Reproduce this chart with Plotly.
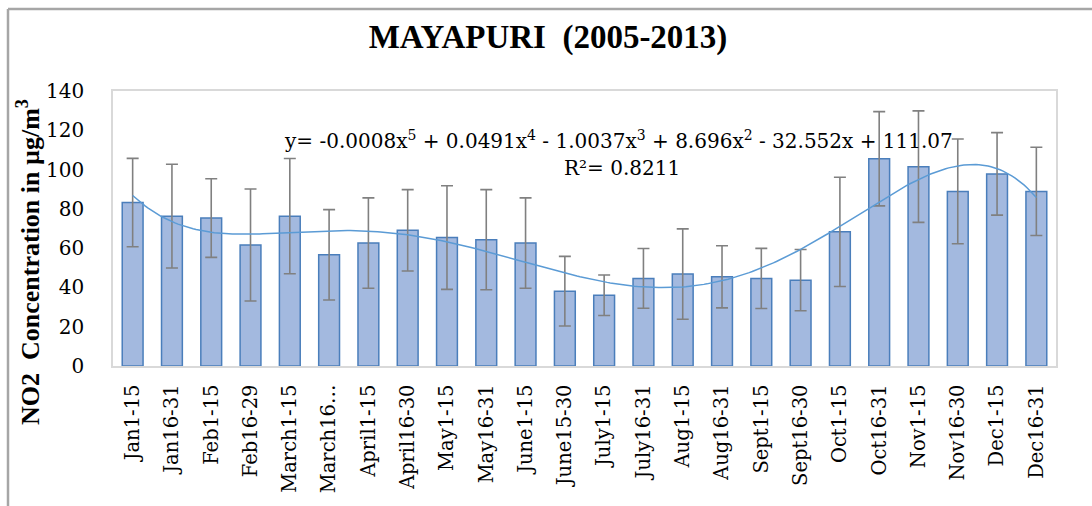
import numpy as np
import plotly.graph_objects as go

categories = ["Jan1-15", "Jan16-31", "Feb1-15", "Feb16-29", "March1-15", "March16…",
              "April1-15", "April16-30", "May1-15", "May16-31", "June1-15", "June15-30",
              "July1-15", "July16-31", "Aug1-15", "Aug16-31", "Sept1-15", "Sept16-30",
              "Oct1-15", "Oct16-31", "Nov1-15", "Nov16-30", "Dec1-15", "Dec16-31"]
means = [83.2, 76.3, 75.3, 61.6, 76.3, 56.6, 62.6, 69.1, 65.4, 64.3, 62.6, 38.1,
         36.0, 44.6, 46.8, 45.4, 44.6, 43.7, 68.3, 105.5, 101.5, 88.9, 97.8, 88.9]
errors = [22.5, 26.4, 20.0, 28.5, 29.3, 23.0, 23.0, 20.7, 26.4, 25.5, 23.0, 17.7,
          10.3, 15.2, 23.0, 15.8, 15.3, 15.6, 27.8, 24.0, 28.4, 26.7, 21.0, 22.5]
equation_text = "y= -0.0008x<sup>5</sup> + 0.0491x<sup>4</sup> - 1.0037x<sup>3</sup> + 8.696x<sup>2</sup> - 32.552x + 111.07"
r2_text = "R²= 0.8211"

x = np.arange(1, len(categories) + 1)
coef = np.polyfit(x, means, 5)
xs = np.linspace(1, len(categories), 300)
ys = np.polyval(coef, xs)

fig = go.Figure()
fig.add_trace(go.Bar(
    x=x, y=means, width=0.53,
    marker=dict(color="#A3B9DF", line=dict(color="#4A7EBB", width=1.5)),
    error_y=dict(type="data", array=errors, visible=True, color="#808080",
                 thickness=1.6, width=6),
    showlegend=False,
))
fig.add_trace(go.Scatter(
    x=xs, y=ys, mode="lines", line=dict(color="#5B9BD5", width=1.5),
    showlegend=False, hoverinfo="skip",
))

L, R, T, B = 113, 36, 91, 140
W, H = 1092, 506
pw, ph = W - L - R, H - T - B

def px(v):
    return (v - L) / pw

def py(v):
    return (H - B - v) / ph

fig.update_layout(
    width=W, height=H,
    margin=dict(l=L, r=R, t=T, b=B),
    paper_bgcolor="white", plot_bgcolor="white",
    title=dict(text="<b>MAYAPURI  (2005-2013)</b>", x=548 / W, xanchor="center",
               y=1 - 36 / H, yanchor="middle",
               font=dict(family="Liberation Serif", size=33, color="#000000")),
    xaxis=dict(range=[0.5, len(categories) + 0.5], tickmode="array", tickvals=x,
               ticktext=categories, tickangle=-90, showgrid=False, zeroline=False,
               showline=True, linecolor="#D9D9D9", linewidth=1.5, mirror=True,
               ticks="", ticklabelstandoff=9,
               tickfont=dict(family="DejaVu Serif", size=19.5, color="#000000")),
    yaxis=dict(range=[0, 140], dtick=20, showgrid=False, zeroline=False,
               showline=True, linecolor="#D9D9D9", linewidth=1.5, mirror=True,
               ticks="", ticklabelstandoff=23,
               tickfont=dict(family="DejaVu Serif", size=20, color="#000000")),
    annotations=[
        dict(text=equation_text, xref="paper", yref="paper", x=px(618), y=py(140),
             showarrow=False, xanchor="center", yanchor="middle",
             font=dict(family="DejaVu Serif", size=20, color="#000000")),
        dict(text=r2_text, xref="paper", yref="paper", x=px(622), y=py(168),
             showarrow=False, xanchor="center", yanchor="middle",
             font=dict(family="DejaVu Serif", size=20, color="#000000")),
        dict(text="<b>NO2  Concentration in µg/m<sup>3</sup></b>", xref="paper", yref="paper",
             x=px(28), y=py(262), textangle=-90, showarrow=False,
             xanchor="center", yanchor="middle",
             font=dict(family="Liberation Serif", size=26, color="#000000")),
    ],
    shapes=[
        dict(type="line", xref="paper", yref="paper", x0=px(8), x1=px(W + 5),
             y0=py(9), y1=py(9), line=dict(color="#A6A6A6", width=2.5)),
        dict(type="line", xref="paper", yref="paper", x0=px(8), x1=px(8),
             y0=py(9), y1=py(H + 5), line=dict(color="#A6A6A6", width=2.5)),
    ],
)

fig.write_html("out.html", config={"displayModeBar": False},
               post_script="document.body.style.margin='0';")
